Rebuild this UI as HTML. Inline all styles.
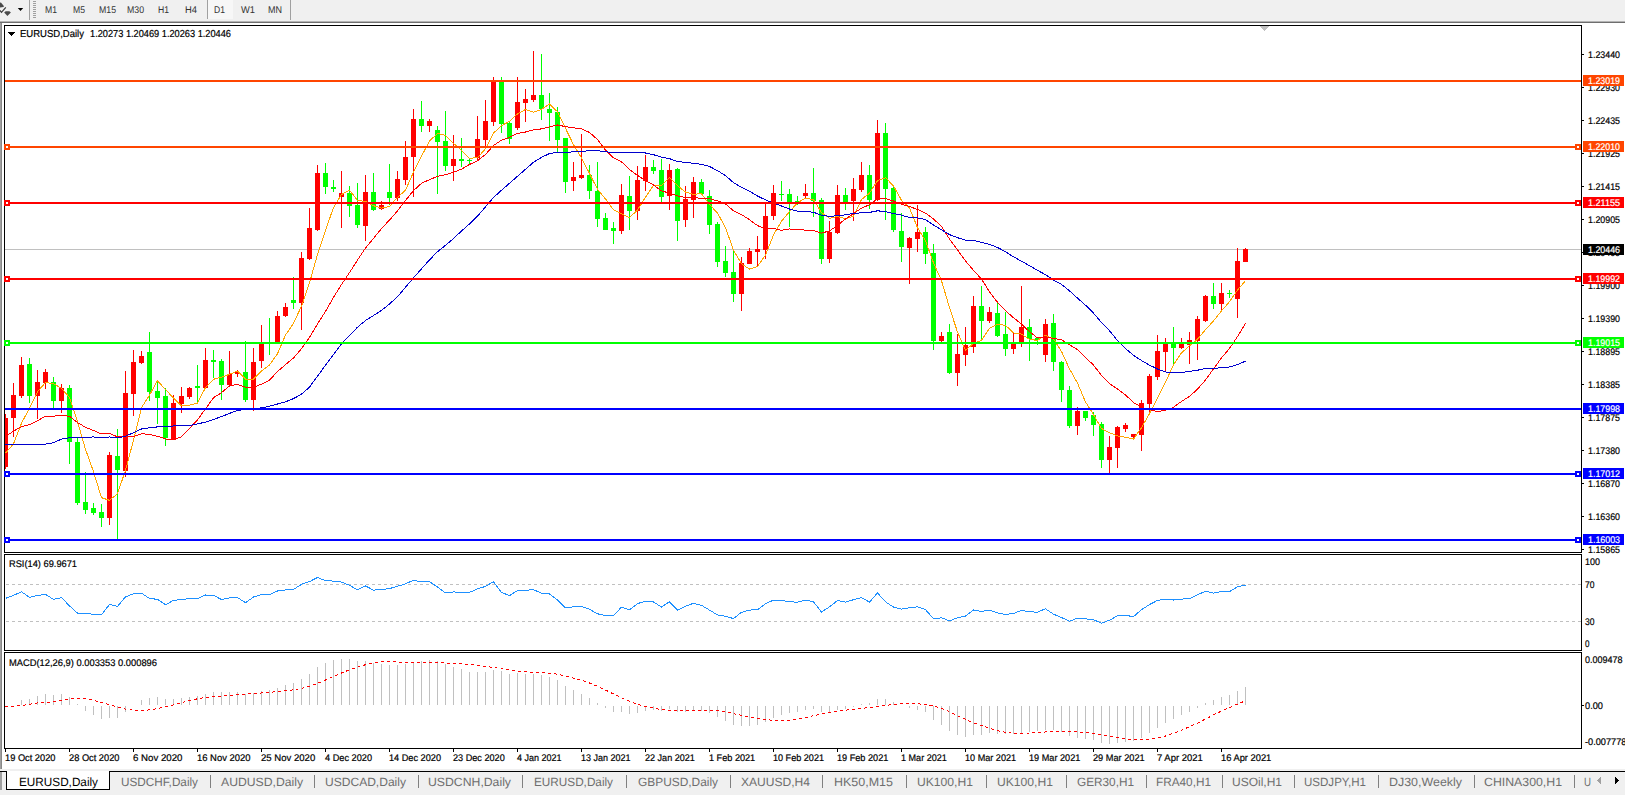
<!DOCTYPE html>
<html><head><meta charset="utf-8"><style>
html,body{margin:0;padding:0;width:1625px;height:795px;overflow:hidden;background:#fff}
svg{display:block;font-family:"Liberation Sans",sans-serif;text-rendering:geometricPrecision}
</style></head><body>
<svg width="1625" height="795" viewBox="0 0 1625 795" shape-rendering="crispEdges">
<rect x="0" y="0" width="1625" height="20" fill="#f0f0f0"/>
<rect x="0" y="20" width="1625" height="1" fill="#f0f0f0"/>
<rect x="0" y="21" width="1625" height="1" fill="#b4b4b4"/>
<rect x="0" y="22" width="1625" height="1" fill="#6e6e6e"/>
<rect x="0" y="23" width="1" height="746" fill="#a0a0a0"/>
<rect x="1" y="23" width="1" height="746" fill="#888888"/>
<rect x="2" y="23" width="1623" height="746" fill="#ffffff"/>
<rect x="0" y="769" width="1625" height="26" fill="#f0f0f0"/>
<g shape-rendering="auto">
<path d="M0 2.6 L1.2 2.8 L4 6.2 L3.4 7 L0 7.6 Z" fill="#4a4a4a"/>
<path d="M0 10.4 L1.5 12.4 L5.8 7.4" stroke="#3a3a3a" stroke-width="1.2" fill="none"/>
<path d="M4.2 12.4 L5.6 11.2 L9.4 11.2 L10.9 12.4 L7.4 16 Z" fill="#4a4a4a"/>
<path d="M17.8 8 L23.2 8 L20.5 11 Z" fill="#000"/>
</g>
<rect x="29" y="0" width="1" height="20" fill="#a0a0a0"/>
<rect x="33" y="1" width="3" height="1" fill="#a0a0a0"/>
<rect x="33" y="3" width="3" height="1" fill="#a0a0a0"/>
<rect x="33" y="5" width="3" height="1" fill="#a0a0a0"/>
<rect x="33" y="7" width="3" height="1" fill="#a0a0a0"/>
<rect x="33" y="9" width="3" height="1" fill="#a0a0a0"/>
<rect x="33" y="11" width="3" height="1" fill="#a0a0a0"/>
<rect x="33" y="13" width="3" height="1" fill="#a0a0a0"/>
<rect x="33" y="15" width="3" height="1" fill="#a0a0a0"/>
<rect x="33" y="17" width="3" height="1" fill="#a0a0a0"/>
<rect x="207" y="0" width="1" height="19" fill="#a0a0a0"/>
<rect x="208" y="0" width="25" height="19" fill="#f7f7f7"/>
<rect x="290" y="0" width="1" height="20" fill="#a0a0a0"/>
<text x="45" y="13" font-size="9.8" fill="#333333" stroke="#333333" stroke-width="0" textLength="12" lengthAdjust="spacingAndGlyphs">M1</text>
<text x="73" y="13" font-size="9.8" fill="#333333" stroke="#333333" stroke-width="0" textLength="12" lengthAdjust="spacingAndGlyphs">M5</text>
<text x="99" y="13" font-size="9.8" fill="#333333" stroke="#333333" stroke-width="0" textLength="17" lengthAdjust="spacingAndGlyphs">M15</text>
<text x="127" y="13" font-size="9.8" fill="#333333" stroke="#333333" stroke-width="0" textLength="17" lengthAdjust="spacingAndGlyphs">M30</text>
<text x="158" y="13" font-size="9.8" fill="#333333" stroke="#333333" stroke-width="0" textLength="11" lengthAdjust="spacingAndGlyphs">H1</text>
<text x="185" y="13" font-size="9.8" fill="#333333" stroke="#333333" stroke-width="0" textLength="12" lengthAdjust="spacingAndGlyphs">H4</text>
<text x="214" y="13" font-size="9.8" fill="#333333" stroke="#333333" stroke-width="0" textLength="11" lengthAdjust="spacingAndGlyphs">D1</text>
<text x="241" y="13" font-size="9.8" fill="#333333" stroke="#333333" stroke-width="0" textLength="14" lengthAdjust="spacingAndGlyphs">W1</text>
<text x="268" y="13" font-size="9.8" fill="#333333" stroke="#333333" stroke-width="0" textLength="14" lengthAdjust="spacingAndGlyphs">MN</text>
<rect x="4" y="25" width="1578" height="1" fill="#000"/>
<rect x="4" y="552" width="1578" height="1" fill="#000"/>
<rect x="4" y="25" width="1" height="528" fill="#000"/>
<rect x="1581" y="25" width="1" height="528" fill="#000"/>
<rect x="4" y="554" width="1578" height="1" fill="#000"/>
<rect x="4" y="650" width="1578" height="1" fill="#000"/>
<rect x="4" y="554" width="1" height="97" fill="#000"/>
<rect x="1581" y="554" width="1" height="97" fill="#000"/>
<rect x="4" y="652" width="1578" height="1" fill="#000"/>
<rect x="4" y="748" width="1578" height="1" fill="#000"/>
<rect x="4" y="652" width="1" height="97" fill="#000"/>
<rect x="1581" y="652" width="1" height="97" fill="#000"/>
<defs><clipPath id="cm"><rect x="5" y="26" width="1576" height="526"/></clipPath><clipPath id="cr"><rect x="5" y="555" width="1576" height="95"/></clipPath><clipPath id="cd"><rect x="5" y="653" width="1576" height="95"/></clipPath></defs>
<g clip-path="url(#cm)">
<rect x="5" y="249" width="1576" height="1" fill="#c0c0c0"/>
<path d="M1259 26 L1269 26 L1264 31 Z" fill="#c0c0c0"/>
<rect x="5" y="414" width="1" height="55" fill="#ff0000"/>
<rect x="3" y="418" width="5" height="49" fill="#ff0000"/>
<rect x="13" y="383" width="1" height="54" fill="#ff0000"/>
<rect x="11" y="395" width="5" height="23" fill="#ff0000"/>
<rect x="21" y="357" width="1" height="41" fill="#ff0000"/>
<rect x="19" y="365" width="5" height="31" fill="#ff0000"/>
<rect x="29" y="358" width="1" height="45" fill="#00ff00"/>
<rect x="27" y="364" width="5" height="32" fill="#00ff00"/>
<rect x="37" y="370" width="1" height="49" fill="#ff0000"/>
<rect x="35" y="382" width="5" height="14" fill="#ff0000"/>
<rect x="45" y="369" width="1" height="20" fill="#ff0000"/>
<rect x="43" y="372" width="5" height="11" fill="#ff0000"/>
<rect x="53" y="377" width="1" height="31" fill="#00ff00"/>
<rect x="51" y="382" width="5" height="19" fill="#00ff00"/>
<rect x="61" y="384" width="1" height="29" fill="#ff0000"/>
<rect x="59" y="388" width="5" height="13" fill="#ff0000"/>
<rect x="69" y="385" width="1" height="79" fill="#00ff00"/>
<rect x="67" y="388" width="5" height="54" fill="#00ff00"/>
<rect x="77" y="437" width="1" height="68" fill="#00ff00"/>
<rect x="75" y="442" width="5" height="61" fill="#00ff00"/>
<rect x="85" y="472" width="1" height="42" fill="#00ff00"/>
<rect x="83" y="502" width="5" height="8" fill="#00ff00"/>
<rect x="93" y="503" width="1" height="12" fill="#00ff00"/>
<rect x="91" y="508" width="5" height="5" fill="#00ff00"/>
<rect x="101" y="504" width="1" height="23" fill="#00ff00"/>
<rect x="99" y="512" width="5" height="6" fill="#00ff00"/>
<rect x="109" y="452" width="1" height="73" fill="#ff0000"/>
<rect x="107" y="455" width="5" height="63" fill="#ff0000"/>
<rect x="117" y="429" width="1" height="111" fill="#00ff00"/>
<rect x="115" y="456" width="5" height="14" fill="#00ff00"/>
<rect x="125" y="371" width="1" height="106" fill="#ff0000"/>
<rect x="123" y="393" width="5" height="78" fill="#ff0000"/>
<rect x="133" y="350" width="1" height="66" fill="#ff0000"/>
<rect x="131" y="362" width="5" height="32" fill="#ff0000"/>
<rect x="141" y="351" width="1" height="13" fill="#ff0000"/>
<rect x="139" y="356" width="5" height="7" fill="#ff0000"/>
<rect x="149" y="332" width="1" height="69" fill="#00ff00"/>
<rect x="147" y="352" width="5" height="40" fill="#00ff00"/>
<rect x="157" y="381" width="1" height="43" fill="#00ff00"/>
<rect x="155" y="391" width="5" height="7" fill="#00ff00"/>
<rect x="165" y="388" width="1" height="58" fill="#00ff00"/>
<rect x="163" y="396" width="5" height="42" fill="#00ff00"/>
<rect x="173" y="395" width="1" height="44" fill="#ff0000"/>
<rect x="171" y="403" width="5" height="36" fill="#ff0000"/>
<rect x="181" y="387" width="1" height="26" fill="#ff0000"/>
<rect x="179" y="396" width="5" height="8" fill="#ff0000"/>
<rect x="189" y="387" width="1" height="12" fill="#ff0000"/>
<rect x="187" y="388" width="5" height="9" fill="#ff0000"/>
<rect x="197" y="365" width="1" height="37" fill="#00ff00"/>
<rect x="195" y="386" width="5" height="2" fill="#00ff00"/>
<rect x="205" y="348" width="1" height="41" fill="#ff0000"/>
<rect x="203" y="360" width="5" height="28" fill="#ff0000"/>
<rect x="213" y="350" width="1" height="28" fill="#00ff00"/>
<rect x="211" y="360" width="5" height="2" fill="#00ff00"/>
<rect x="221" y="359" width="1" height="41" fill="#00ff00"/>
<rect x="219" y="361" width="5" height="24" fill="#00ff00"/>
<rect x="229" y="351" width="1" height="36" fill="#ff0000"/>
<rect x="227" y="374" width="5" height="11" fill="#ff0000"/>
<rect x="237" y="370" width="1" height="7" fill="#ff0000"/>
<rect x="235" y="372" width="5" height="2" fill="#ff0000"/>
<rect x="245" y="341" width="1" height="61" fill="#00ff00"/>
<rect x="243" y="372" width="5" height="28" fill="#00ff00"/>
<rect x="253" y="348" width="1" height="63" fill="#ff0000"/>
<rect x="251" y="362" width="5" height="38" fill="#ff0000"/>
<rect x="261" y="325" width="1" height="43" fill="#ff0000"/>
<rect x="259" y="344" width="5" height="17" fill="#ff0000"/>
<rect x="269" y="318" width="1" height="37" fill="#00ff00"/>
<rect x="267" y="342" width="5" height="2" fill="#00ff00"/>
<rect x="277" y="311" width="1" height="31" fill="#ff0000"/>
<rect x="275" y="316" width="5" height="26" fill="#ff0000"/>
<rect x="285" y="303" width="1" height="14" fill="#ff0000"/>
<rect x="283" y="307" width="5" height="9" fill="#ff0000"/>
<rect x="293" y="277" width="1" height="32" fill="#00ff00"/>
<rect x="291" y="300" width="5" height="3" fill="#00ff00"/>
<rect x="301" y="252" width="1" height="78" fill="#ff0000"/>
<rect x="299" y="258" width="5" height="45" fill="#ff0000"/>
<rect x="309" y="208" width="1" height="52" fill="#ff0000"/>
<rect x="307" y="228" width="5" height="31" fill="#ff0000"/>
<rect x="317" y="165" width="1" height="66" fill="#ff0000"/>
<rect x="315" y="173" width="5" height="57" fill="#ff0000"/>
<rect x="325" y="163" width="1" height="31" fill="#00ff00"/>
<rect x="323" y="173" width="5" height="14" fill="#00ff00"/>
<rect x="333" y="180" width="1" height="12" fill="#00ff00"/>
<rect x="331" y="187" width="5" height="2" fill="#00ff00"/>
<rect x="341" y="171" width="1" height="57" fill="#ff0000"/>
<rect x="339" y="193" width="5" height="4" fill="#ff0000"/>
<rect x="349" y="186" width="1" height="31" fill="#00ff00"/>
<rect x="347" y="193" width="5" height="13" fill="#00ff00"/>
<rect x="357" y="183" width="1" height="45" fill="#00ff00"/>
<rect x="355" y="205" width="5" height="20" fill="#00ff00"/>
<rect x="365" y="175" width="1" height="66" fill="#ff0000"/>
<rect x="363" y="192" width="5" height="34" fill="#ff0000"/>
<rect x="373" y="173" width="1" height="38" fill="#00ff00"/>
<rect x="371" y="192" width="5" height="18" fill="#00ff00"/>
<rect x="381" y="201" width="1" height="9" fill="#ff0000"/>
<rect x="379" y="205" width="5" height="4" fill="#ff0000"/>
<rect x="389" y="164" width="1" height="41" fill="#00ff00"/>
<rect x="387" y="192" width="5" height="6" fill="#00ff00"/>
<rect x="397" y="171" width="1" height="30" fill="#ff0000"/>
<rect x="395" y="179" width="5" height="19" fill="#ff0000"/>
<rect x="405" y="141" width="1" height="44" fill="#ff0000"/>
<rect x="403" y="157" width="5" height="23" fill="#ff0000"/>
<rect x="413" y="109" width="1" height="88" fill="#ff0000"/>
<rect x="411" y="119" width="5" height="38" fill="#ff0000"/>
<rect x="421" y="101" width="1" height="31" fill="#00ff00"/>
<rect x="419" y="119" width="5" height="7" fill="#00ff00"/>
<rect x="429" y="119" width="1" height="13" fill="#ff0000"/>
<rect x="427" y="121" width="5" height="5" fill="#ff0000"/>
<rect x="437" y="126" width="1" height="68" fill="#00ff00"/>
<rect x="435" y="130" width="5" height="12" fill="#00ff00"/>
<rect x="445" y="111" width="1" height="60" fill="#00ff00"/>
<rect x="443" y="141" width="5" height="25" fill="#00ff00"/>
<rect x="453" y="135" width="1" height="46" fill="#ff0000"/>
<rect x="451" y="159" width="5" height="7" fill="#ff0000"/>
<rect x="461" y="138" width="1" height="29" fill="#00ff00"/>
<rect x="459" y="159" width="5" height="2" fill="#00ff00"/>
<rect x="469" y="158" width="1" height="6" fill="#00ff00"/>
<rect x="467" y="160" width="5" height="1" fill="#00ff00"/>
<rect x="477" y="116" width="1" height="45" fill="#ff0000"/>
<rect x="475" y="139" width="5" height="19" fill="#ff0000"/>
<rect x="485" y="100" width="1" height="46" fill="#ff0000"/>
<rect x="483" y="121" width="5" height="19" fill="#ff0000"/>
<rect x="493" y="77" width="1" height="49" fill="#ff0000"/>
<rect x="491" y="81" width="5" height="41" fill="#ff0000"/>
<rect x="501" y="77" width="1" height="56" fill="#00ff00"/>
<rect x="499" y="81" width="5" height="43" fill="#00ff00"/>
<rect x="509" y="122" width="1" height="22" fill="#00ff00"/>
<rect x="507" y="123" width="5" height="16" fill="#00ff00"/>
<rect x="517" y="77" width="1" height="53" fill="#ff0000"/>
<rect x="515" y="102" width="5" height="26" fill="#ff0000"/>
<rect x="525" y="89" width="1" height="33" fill="#ff0000"/>
<rect x="523" y="99" width="5" height="4" fill="#ff0000"/>
<rect x="533" y="51" width="1" height="51" fill="#ff0000"/>
<rect x="531" y="95" width="5" height="5" fill="#ff0000"/>
<rect x="541" y="54" width="1" height="66" fill="#00ff00"/>
<rect x="539" y="95" width="5" height="14" fill="#00ff00"/>
<rect x="549" y="93" width="1" height="48" fill="#00ff00"/>
<rect x="547" y="109" width="5" height="4" fill="#00ff00"/>
<rect x="557" y="107" width="1" height="46" fill="#00ff00"/>
<rect x="555" y="112" width="5" height="28" fill="#00ff00"/>
<rect x="565" y="138" width="1" height="55" fill="#00ff00"/>
<rect x="563" y="138" width="5" height="44" fill="#00ff00"/>
<rect x="573" y="162" width="1" height="29" fill="#ff0000"/>
<rect x="571" y="177" width="5" height="4" fill="#ff0000"/>
<rect x="581" y="134" width="1" height="45" fill="#ff0000"/>
<rect x="579" y="175" width="5" height="3" fill="#ff0000"/>
<rect x="589" y="165" width="1" height="34" fill="#00ff00"/>
<rect x="587" y="175" width="5" height="16" fill="#00ff00"/>
<rect x="597" y="162" width="1" height="65" fill="#00ff00"/>
<rect x="595" y="191" width="5" height="28" fill="#00ff00"/>
<rect x="605" y="213" width="1" height="17" fill="#00ff00"/>
<rect x="603" y="218" width="5" height="12" fill="#00ff00"/>
<rect x="613" y="222" width="1" height="22" fill="#00ff00"/>
<rect x="611" y="228" width="5" height="3" fill="#00ff00"/>
<rect x="621" y="184" width="1" height="50" fill="#ff0000"/>
<rect x="619" y="195" width="5" height="36" fill="#ff0000"/>
<rect x="629" y="176" width="1" height="54" fill="#00ff00"/>
<rect x="627" y="196" width="5" height="15" fill="#00ff00"/>
<rect x="637" y="166" width="1" height="54" fill="#ff0000"/>
<rect x="635" y="180" width="5" height="31" fill="#ff0000"/>
<rect x="645" y="155" width="1" height="36" fill="#ff0000"/>
<rect x="643" y="167" width="5" height="14" fill="#ff0000"/>
<rect x="653" y="160" width="1" height="14" fill="#00ff00"/>
<rect x="651" y="167" width="5" height="4" fill="#00ff00"/>
<rect x="661" y="159" width="1" height="43" fill="#00ff00"/>
<rect x="659" y="170" width="5" height="27" fill="#00ff00"/>
<rect x="669" y="164" width="1" height="46" fill="#ff0000"/>
<rect x="667" y="170" width="5" height="26" fill="#ff0000"/>
<rect x="677" y="168" width="1" height="73" fill="#00ff00"/>
<rect x="675" y="169" width="5" height="52" fill="#00ff00"/>
<rect x="685" y="186" width="1" height="41" fill="#ff0000"/>
<rect x="683" y="199" width="5" height="21" fill="#ff0000"/>
<rect x="693" y="177" width="1" height="41" fill="#ff0000"/>
<rect x="691" y="182" width="5" height="18" fill="#ff0000"/>
<rect x="701" y="179" width="1" height="16" fill="#00ff00"/>
<rect x="699" y="182" width="5" height="12" fill="#00ff00"/>
<rect x="709" y="190" width="1" height="44" fill="#00ff00"/>
<rect x="707" y="196" width="5" height="29" fill="#00ff00"/>
<rect x="717" y="222" width="1" height="45" fill="#00ff00"/>
<rect x="715" y="224" width="5" height="38" fill="#00ff00"/>
<rect x="725" y="246" width="1" height="31" fill="#00ff00"/>
<rect x="723" y="261" width="5" height="12" fill="#00ff00"/>
<rect x="733" y="251" width="1" height="51" fill="#00ff00"/>
<rect x="731" y="272" width="5" height="22" fill="#00ff00"/>
<rect x="741" y="257" width="1" height="54" fill="#ff0000"/>
<rect x="739" y="263" width="5" height="31" fill="#ff0000"/>
<rect x="749" y="248" width="1" height="16" fill="#ff0000"/>
<rect x="747" y="251" width="5" height="13" fill="#ff0000"/>
<rect x="757" y="236" width="1" height="30" fill="#ff0000"/>
<rect x="755" y="249" width="5" height="3" fill="#ff0000"/>
<rect x="765" y="204" width="1" height="55" fill="#ff0000"/>
<rect x="763" y="216" width="5" height="34" fill="#ff0000"/>
<rect x="773" y="185" width="1" height="35" fill="#ff0000"/>
<rect x="771" y="193" width="5" height="23" fill="#ff0000"/>
<rect x="781" y="181" width="1" height="20" fill="#00ff00"/>
<rect x="779" y="194" width="5" height="1" fill="#00ff00"/>
<rect x="789" y="189" width="1" height="38" fill="#00ff00"/>
<rect x="787" y="194" width="5" height="9" fill="#00ff00"/>
<rect x="797" y="196" width="1" height="9" fill="#00ff00"/>
<rect x="795" y="201" width="5" height="3" fill="#00ff00"/>
<rect x="805" y="184" width="1" height="15" fill="#ff0000"/>
<rect x="803" y="193" width="5" height="3" fill="#ff0000"/>
<rect x="813" y="168" width="1" height="49" fill="#00ff00"/>
<rect x="811" y="193" width="5" height="8" fill="#00ff00"/>
<rect x="821" y="198" width="1" height="66" fill="#00ff00"/>
<rect x="819" y="200" width="5" height="59" fill="#00ff00"/>
<rect x="829" y="221" width="1" height="42" fill="#ff0000"/>
<rect x="827" y="232" width="5" height="27" fill="#ff0000"/>
<rect x="837" y="185" width="1" height="49" fill="#ff0000"/>
<rect x="835" y="195" width="5" height="38" fill="#ff0000"/>
<rect x="845" y="188" width="1" height="22" fill="#00ff00"/>
<rect x="843" y="195" width="5" height="9" fill="#00ff00"/>
<rect x="853" y="178" width="1" height="43" fill="#ff0000"/>
<rect x="851" y="189" width="5" height="12" fill="#ff0000"/>
<rect x="861" y="162" width="1" height="30" fill="#ff0000"/>
<rect x="859" y="175" width="5" height="15" fill="#ff0000"/>
<rect x="869" y="165" width="1" height="44" fill="#00ff00"/>
<rect x="867" y="175" width="5" height="25" fill="#00ff00"/>
<rect x="877" y="120" width="1" height="81" fill="#ff0000"/>
<rect x="875" y="133" width="5" height="67" fill="#ff0000"/>
<rect x="885" y="123" width="1" height="97" fill="#00ff00"/>
<rect x="883" y="133" width="5" height="56" fill="#00ff00"/>
<rect x="893" y="187" width="1" height="45" fill="#00ff00"/>
<rect x="891" y="188" width="5" height="42" fill="#00ff00"/>
<rect x="901" y="213" width="1" height="49" fill="#00ff00"/>
<rect x="899" y="231" width="5" height="16" fill="#00ff00"/>
<rect x="909" y="237" width="1" height="47" fill="#ff0000"/>
<rect x="907" y="238" width="5" height="10" fill="#ff0000"/>
<rect x="917" y="205" width="1" height="47" fill="#ff0000"/>
<rect x="915" y="232" width="5" height="7" fill="#ff0000"/>
<rect x="925" y="227" width="1" height="37" fill="#00ff00"/>
<rect x="923" y="232" width="5" height="22" fill="#00ff00"/>
<rect x="933" y="244" width="1" height="106" fill="#00ff00"/>
<rect x="931" y="253" width="5" height="88" fill="#00ff00"/>
<rect x="941" y="332" width="1" height="10" fill="#ff0000"/>
<rect x="939" y="336" width="5" height="5" fill="#ff0000"/>
<rect x="949" y="324" width="1" height="50" fill="#00ff00"/>
<rect x="947" y="332" width="5" height="41" fill="#00ff00"/>
<rect x="957" y="334" width="1" height="52" fill="#ff0000"/>
<rect x="955" y="354" width="5" height="19" fill="#ff0000"/>
<rect x="965" y="327" width="1" height="39" fill="#ff0000"/>
<rect x="963" y="345" width="5" height="10" fill="#ff0000"/>
<rect x="973" y="296" width="1" height="57" fill="#ff0000"/>
<rect x="971" y="306" width="5" height="41" fill="#ff0000"/>
<rect x="981" y="286" width="1" height="53" fill="#00ff00"/>
<rect x="979" y="306" width="5" height="15" fill="#00ff00"/>
<rect x="989" y="307" width="1" height="16" fill="#ff0000"/>
<rect x="987" y="312" width="5" height="9" fill="#ff0000"/>
<rect x="997" y="301" width="1" height="36" fill="#00ff00"/>
<rect x="995" y="313" width="5" height="23" fill="#00ff00"/>
<rect x="1005" y="312" width="1" height="44" fill="#00ff00"/>
<rect x="1003" y="334" width="5" height="15" fill="#00ff00"/>
<rect x="1013" y="332" width="1" height="22" fill="#ff0000"/>
<rect x="1011" y="344" width="5" height="5" fill="#ff0000"/>
<rect x="1021" y="286" width="1" height="61" fill="#ff0000"/>
<rect x="1019" y="327" width="5" height="15" fill="#ff0000"/>
<rect x="1029" y="319" width="1" height="42" fill="#00ff00"/>
<rect x="1027" y="327" width="5" height="12" fill="#00ff00"/>
<rect x="1037" y="337" width="1" height="8" fill="#00ff00"/>
<rect x="1035" y="338" width="5" height="2" fill="#00ff00"/>
<rect x="1045" y="319" width="1" height="43" fill="#ff0000"/>
<rect x="1043" y="324" width="5" height="31" fill="#ff0000"/>
<rect x="1053" y="314" width="1" height="57" fill="#00ff00"/>
<rect x="1051" y="323" width="5" height="39" fill="#00ff00"/>
<rect x="1061" y="361" width="1" height="41" fill="#00ff00"/>
<rect x="1059" y="362" width="5" height="28" fill="#00ff00"/>
<rect x="1069" y="386" width="1" height="42" fill="#00ff00"/>
<rect x="1067" y="390" width="5" height="36" fill="#00ff00"/>
<rect x="1077" y="407" width="1" height="28" fill="#ff0000"/>
<rect x="1075" y="411" width="5" height="15" fill="#ff0000"/>
<rect x="1085" y="411" width="1" height="10" fill="#00ff00"/>
<rect x="1083" y="411" width="5" height="7" fill="#00ff00"/>
<rect x="1093" y="412" width="1" height="24" fill="#00ff00"/>
<rect x="1091" y="415" width="5" height="10" fill="#00ff00"/>
<rect x="1101" y="422" width="1" height="46" fill="#00ff00"/>
<rect x="1099" y="424" width="5" height="36" fill="#00ff00"/>
<rect x="1109" y="436" width="1" height="38" fill="#ff0000"/>
<rect x="1107" y="447" width="5" height="13" fill="#ff0000"/>
<rect x="1117" y="426" width="1" height="42" fill="#ff0000"/>
<rect x="1115" y="427" width="5" height="21" fill="#ff0000"/>
<rect x="1125" y="423" width="1" height="9" fill="#ff0000"/>
<rect x="1123" y="425" width="5" height="4" fill="#ff0000"/>
<rect x="1133" y="434" width="1" height="4" fill="#ff0000"/>
<rect x="1131" y="434" width="5" height="3" fill="#ff0000"/>
<rect x="1141" y="400" width="1" height="51" fill="#ff0000"/>
<rect x="1139" y="403" width="5" height="32" fill="#ff0000"/>
<rect x="1149" y="374" width="1" height="39" fill="#ff0000"/>
<rect x="1147" y="376" width="5" height="28" fill="#ff0000"/>
<rect x="1157" y="335" width="1" height="45" fill="#ff0000"/>
<rect x="1155" y="351" width="5" height="26" fill="#ff0000"/>
<rect x="1165" y="338" width="1" height="33" fill="#ff0000"/>
<rect x="1163" y="344" width="5" height="8" fill="#ff0000"/>
<rect x="1173" y="327" width="1" height="38" fill="#00ff00"/>
<rect x="1171" y="343" width="5" height="5" fill="#00ff00"/>
<rect x="1181" y="338" width="1" height="11" fill="#ff0000"/>
<rect x="1179" y="343" width="5" height="5" fill="#ff0000"/>
<rect x="1189" y="332" width="1" height="32" fill="#ff0000"/>
<rect x="1187" y="340" width="5" height="5" fill="#ff0000"/>
<rect x="1197" y="316" width="1" height="44" fill="#ff0000"/>
<rect x="1195" y="319" width="5" height="22" fill="#ff0000"/>
<rect x="1205" y="295" width="1" height="27" fill="#ff0000"/>
<rect x="1203" y="296" width="5" height="25" fill="#ff0000"/>
<rect x="1213" y="283" width="1" height="26" fill="#00ff00"/>
<rect x="1211" y="296" width="5" height="8" fill="#00ff00"/>
<rect x="1221" y="283" width="1" height="28" fill="#ff0000"/>
<rect x="1219" y="293" width="5" height="11" fill="#ff0000"/>
<rect x="1229" y="290" width="1" height="8" fill="#00ff00"/>
<rect x="1227" y="293" width="5" height="1" fill="#00ff00"/>
<rect x="1237" y="248" width="1" height="70" fill="#ff0000"/>
<rect x="1235" y="261" width="5" height="38" fill="#ff0000"/>
<rect x="1245" y="248" width="1" height="14" fill="#ff0000"/>
<rect x="1243" y="249" width="5" height="13" fill="#ff0000"/>
<polyline points="5.5,453.3 13.5,443.8 21.5,423.2 29.5,408.1 37.5,391.7 45.5,382.5 53.5,383.7 61.5,388.3 69.5,397.5 77.5,421.7 85.5,449.3 93.5,471.7 101.5,497.7 109.5,500.3 117.5,493.7 125.5,470.3 133.5,440.1 141.5,407.7 149.5,395.1 157.5,380.7 165.5,389.7 173.5,397.9 181.5,405.9 189.5,405.1 197.5,403.1 205.5,387.5 213.5,379.3 221.5,377.1 229.5,374.3 237.5,371.1 245.5,379.1 253.5,379.1 261.5,370.9 269.5,364.9 277.5,353.7 285.5,335.1 293.5,323.3 301.5,306.1 309.5,282.9 317.5,254.3 325.5,230.3 333.5,207.5 341.5,194.5 349.5,190.1 357.5,200.5 365.5,201.5 373.5,205.7 381.5,208.1 389.5,206.5 397.5,197.3 405.5,190.3 413.5,172.1 421.5,156.3 429.5,140.9 437.5,133.5 445.5,135.3 453.5,143.3 461.5,150.3 469.5,158.3 477.5,157.7 485.5,148.7 493.5,133.1 501.5,125.7 509.5,121.3 517.5,113.9 525.5,109.5 533.5,112.3 541.5,109.3 549.5,104.1 557.5,111.7 565.5,128.3 573.5,144.7 581.5,157.9 589.5,173.5 597.5,189.3 605.5,198.9 613.5,209.7 621.5,213.7 629.5,217.7 637.5,209.9 645.5,197.3 653.5,185.3 661.5,185.7 669.5,177.5 677.5,185.7 685.5,192.1 693.5,194.3 701.5,193.7 709.5,204.7 717.5,212.9 725.5,227.7 733.5,250.1 741.5,263.9 749.5,269.1 757.5,266.5 765.5,255.1 773.5,234.9 781.5,221.3 789.5,211.7 797.5,202.7 805.5,198.1 813.5,199.7 821.5,212.5 829.5,218.3 837.5,216.5 845.5,218.7 853.5,216.3 861.5,199.5 869.5,193.1 877.5,180.7 885.5,177.7 893.5,185.9 901.5,200.3 909.5,207.9 917.5,227.7 925.5,240.7 933.5,262.9 941.5,280.7 949.5,307.7 957.5,332.1 965.5,350.3 973.5,343.3 981.5,340.3 989.5,328.1 997.5,324.5 1005.5,325.3 1013.5,332.9 1021.5,334.1 1029.5,339.5 1037.5,340.3 1045.5,335.3 1053.5,338.9 1061.5,351.5 1069.5,368.9 1077.5,383.1 1085.5,401.9 1093.5,414.5 1101.5,428.5 1109.5,432.7 1117.5,435.9 1125.5,437.3 1133.5,439.1 1141.5,427.7 1149.5,413.5 1157.5,398.3 1165.5,382.1 1173.5,364.9 1181.5,352.9 1189.5,345.7 1197.5,339.3 1205.5,329.7 1213.5,320.9 1221.5,310.9 1229.5,301.7 1237.5,290.1 1245.5,280.7" fill="none" stroke="#ffa500" stroke-width="1"/>
<polyline points="5.5,436.3 13.5,431.2 21.5,426.6 29.5,424.6 37.5,420.7 45.5,416.2 53.5,416.1 61.5,415.5 69.5,416.2 77.5,422.5 85.5,427.3 93.5,430.5 101.5,433.9 109.5,433.2 117.5,436.9 125.5,436.8 133.5,436.6 141.5,433.7 149.5,434.4 157.5,436.3 165.5,438.9 173.5,440.0 181.5,436.7 189.5,428.5 197.5,419.8 205.5,408.9 213.5,397.7 221.5,392.7 229.5,385.9 237.5,384.4 245.5,387.1 253.5,387.5 261.5,384.1 269.5,380.2 277.5,371.5 285.5,364.6 293.5,358.0 301.5,348.7 309.5,337.3 317.5,323.9 325.5,311.4 333.5,297.4 341.5,284.5 349.5,272.6 357.5,260.1 365.5,248.0 373.5,238.4 381.5,228.5 389.5,220.1 397.5,210.9 405.5,200.5 413.5,190.6 421.5,183.3 429.5,179.6 437.5,176.4 445.5,174.7 453.5,172.3 461.5,169.1 469.5,164.5 477.5,160.7 485.5,154.4 493.5,145.5 501.5,140.2 509.5,137.4 517.5,133.4 525.5,132.0 533.5,129.8 541.5,128.9 549.5,126.9 557.5,125.0 565.5,126.6 573.5,127.8 581.5,128.8 589.5,132.5 597.5,139.5 605.5,150.1 613.5,157.8 621.5,161.8 629.5,169.6 637.5,175.4 645.5,180.5 653.5,184.9 661.5,190.9 669.5,193.1 677.5,195.9 685.5,197.4 693.5,197.9 701.5,198.1 709.5,198.6 717.5,200.9 725.5,203.9 733.5,210.9 741.5,214.6 749.5,219.7 757.5,225.6 765.5,228.8 773.5,228.5 781.5,230.3 789.5,229.0 797.5,229.4 805.5,230.1 813.5,230.6 821.5,233.1 829.5,230.9 837.5,225.4 845.5,218.9 853.5,213.6 861.5,208.2 869.5,204.7 877.5,198.8 885.5,198.5 893.5,201.0 901.5,204.1 909.5,206.6 917.5,209.4 925.5,213.1 933.5,219.0 941.5,226.4 949.5,239.1 957.5,249.9 965.5,261.0 973.5,270.4 981.5,279.0 989.5,291.8 997.5,302.3 1005.5,310.8 1013.5,317.7 1021.5,324.1 1029.5,331.7 1037.5,337.9 1045.5,336.6 1053.5,338.5 1061.5,339.7 1069.5,344.9 1077.5,349.6 1085.5,357.6 1093.5,365.0 1101.5,375.6 1109.5,383.5 1117.5,389.1 1125.5,394.9 1133.5,402.5 1141.5,407.1 1149.5,409.6 1157.5,411.6 1165.5,410.3 1173.5,407.3 1181.5,401.4 1189.5,396.3 1197.5,389.2 1205.5,380.0 1213.5,368.9 1221.5,357.9 1229.5,348.4 1237.5,336.6 1245.5,323.4" fill="none" stroke="#ff0000" stroke-width="1"/>
<polyline points="5.5,444.1 13.5,444.8 21.5,444.1 29.5,444.1 37.5,444.2 45.5,444.1 53.5,442.8 61.5,439.1 69.5,437.8 77.5,437.8 85.5,437.7 93.5,436.9 101.5,437.8 109.5,436.9 117.5,437.8 125.5,436.3 133.5,432.7 141.5,429.0 149.5,427.8 157.5,426.9 165.5,427.0 173.5,425.9 181.5,425.7 189.5,425.4 197.5,423.9 205.5,422.1 213.5,419.4 221.5,416.6 229.5,413.4 237.5,410.3 245.5,409.7 253.5,408.6 261.5,407.9 269.5,406.2 277.5,404.0 285.5,401.8 293.5,398.6 301.5,394.2 309.5,387.1 317.5,376.1 325.5,365.3 333.5,354.5 341.5,343.7 349.5,335.4 357.5,327.2 365.5,320.5 373.5,315.5 381.5,310.4 389.5,304.0 397.5,296.7 405.5,287.3 413.5,277.8 421.5,268.8 429.5,259.9 437.5,251.7 445.5,245.3 453.5,238.5 461.5,231.0 469.5,223.9 477.5,216.2 485.5,206.9 493.5,197.5 501.5,190.2 509.5,183.3 517.5,176.2 525.5,169.3 533.5,162.3 541.5,157.4 549.5,153.5 557.5,152.4 565.5,152.3 573.5,151.9 581.5,151.3 589.5,150.8 597.5,150.6 605.5,151.8 613.5,152.5 621.5,152.2 629.5,152.6 637.5,152.7 645.5,153.0 653.5,154.7 661.5,157.1 669.5,158.7 677.5,161.4 685.5,162.5 693.5,163.2 701.5,164.3 709.5,166.5 717.5,170.6 725.5,175.6 733.5,182.7 741.5,187.4 749.5,191.1 757.5,196.0 765.5,199.9 773.5,203.2 781.5,206.0 789.5,209.0 797.5,211.2 805.5,211.5 813.5,212.3 821.5,215.1 829.5,216.5 837.5,215.7 845.5,214.8 853.5,213.4 861.5,212.8 869.5,212.4 877.5,210.8 885.5,211.6 893.5,213.5 901.5,215.2 909.5,217.5 917.5,217.8 925.5,219.7 933.5,225.0 941.5,229.7 949.5,234.6 957.5,237.7 965.5,240.1 973.5,240.5 981.5,242.4 989.5,244.5 997.5,247.4 1005.5,251.8 1013.5,256.8 1021.5,261.2 1029.5,265.8 1037.5,270.3 1045.5,274.7 1053.5,280.0 1061.5,284.4 1069.5,290.9 1077.5,298.1 1085.5,305.2 1093.5,313.1 1101.5,322.6 1109.5,330.8 1117.5,340.6 1125.5,348.5 1133.5,355.3 1141.5,360.5 1149.5,365.1 1157.5,369.0 1165.5,372.0 1173.5,372.3 1181.5,372.5 1189.5,371.4 1197.5,370.2 1205.5,368.6 1213.5,368.5 1221.5,367.6 1229.5,367.0 1237.5,364.5 1245.5,361.2" fill="none" stroke="#0000cd" stroke-width="1"/>
<rect x="5" y="80" width="1576" height="2" fill="#ff4500"/>
<rect x="5" y="146" width="1576" height="2" fill="#ff4500"/>
<rect x="5" y="202" width="1576" height="2" fill="#ff0000"/>
<rect x="5" y="278" width="1576" height="2" fill="#ff0000"/>
<rect x="5" y="342" width="1576" height="2" fill="#00ff00"/>
<rect x="5" y="408" width="1576" height="2" fill="#0000ff"/>
<rect x="5" y="473" width="1576" height="2" fill="#0000ff"/>
<rect x="5" y="539" width="1576" height="2" fill="#0000ff"/>
</g>
<rect x="4" y="144" width="6" height="6" fill="#ff4500"/>
<rect x="6" y="146" width="2" height="2" fill="#fff"/>
<rect x="1575" y="144" width="6" height="6" fill="#ff4500"/>
<rect x="1577" y="146" width="2" height="2" fill="#fff"/>
<rect x="4" y="200" width="6" height="6" fill="#ff0000"/>
<rect x="6" y="202" width="2" height="2" fill="#fff"/>
<rect x="1575" y="200" width="6" height="6" fill="#ff0000"/>
<rect x="1577" y="202" width="2" height="2" fill="#fff"/>
<rect x="4" y="276" width="6" height="6" fill="#ff0000"/>
<rect x="6" y="278" width="2" height="2" fill="#fff"/>
<rect x="1575" y="276" width="6" height="6" fill="#ff0000"/>
<rect x="1577" y="278" width="2" height="2" fill="#fff"/>
<rect x="4" y="340" width="6" height="6" fill="#00ff00"/>
<rect x="6" y="342" width="2" height="2" fill="#fff"/>
<rect x="1575" y="340" width="6" height="6" fill="#00ff00"/>
<rect x="1577" y="342" width="2" height="2" fill="#fff"/>
<rect x="4" y="471" width="6" height="6" fill="#0000ff"/>
<rect x="6" y="473" width="2" height="2" fill="#fff"/>
<rect x="1575" y="471" width="6" height="6" fill="#0000ff"/>
<rect x="1577" y="473" width="2" height="2" fill="#fff"/>
<rect x="4" y="537" width="6" height="6" fill="#0000ff"/>
<rect x="6" y="539" width="2" height="2" fill="#fff"/>
<rect x="1575" y="537" width="6" height="6" fill="#0000ff"/>
<rect x="1577" y="539" width="2" height="2" fill="#fff"/>
<path d="M8 32 L15 32 L11.5 36 Z" fill="#000"/>
<text x="20" y="37" font-size="10.1" fill="#000" stroke="#000" stroke-width="0.2" textLength="64" lengthAdjust="spacingAndGlyphs">EURUSD,Daily</text>
<text x="90" y="37" font-size="10.1" fill="#000" stroke="#000" stroke-width="0.2" textLength="141" lengthAdjust="spacingAndGlyphs">1.20273 1.20469 1.20263 1.20446</text>
<rect x="1582" y="54" width="2" height="1" fill="#000"/>
<text x="1588" y="58" font-size="9.6" fill="#000" stroke="#000" stroke-width="0.2" textLength="32" lengthAdjust="spacingAndGlyphs">1.23440</text>
<rect x="1582" y="87" width="2" height="1" fill="#000"/>
<text x="1588" y="91" font-size="9.6" fill="#000" stroke="#000" stroke-width="0.2" textLength="32" lengthAdjust="spacingAndGlyphs">1.22930</text>
<rect x="1582" y="120" width="2" height="1" fill="#000"/>
<text x="1588" y="124" font-size="9.6" fill="#000" stroke="#000" stroke-width="0.2" textLength="32" lengthAdjust="spacingAndGlyphs">1.22435</text>
<rect x="1582" y="153" width="2" height="1" fill="#000"/>
<text x="1588" y="157" font-size="9.6" fill="#000" stroke="#000" stroke-width="0.2" textLength="32" lengthAdjust="spacingAndGlyphs">1.21925</text>
<rect x="1582" y="186" width="2" height="1" fill="#000"/>
<text x="1588" y="190" font-size="9.6" fill="#000" stroke="#000" stroke-width="0.2" textLength="32" lengthAdjust="spacingAndGlyphs">1.21415</text>
<rect x="1582" y="219" width="2" height="1" fill="#000"/>
<text x="1588" y="223" font-size="9.6" fill="#000" stroke="#000" stroke-width="0.2" textLength="32" lengthAdjust="spacingAndGlyphs">1.20905</text>
<rect x="1582" y="252" width="2" height="1" fill="#000"/>
<text x="1588" y="256" font-size="9.6" fill="#000" stroke="#000" stroke-width="0.2" textLength="32" lengthAdjust="spacingAndGlyphs">1.20400</text>
<rect x="1582" y="285" width="2" height="1" fill="#000"/>
<text x="1588" y="289" font-size="9.6" fill="#000" stroke="#000" stroke-width="0.2" textLength="32" lengthAdjust="spacingAndGlyphs">1.19900</text>
<rect x="1582" y="318" width="2" height="1" fill="#000"/>
<text x="1588" y="322" font-size="9.6" fill="#000" stroke="#000" stroke-width="0.2" textLength="32" lengthAdjust="spacingAndGlyphs">1.19390</text>
<rect x="1582" y="351" width="2" height="1" fill="#000"/>
<text x="1588" y="355" font-size="9.6" fill="#000" stroke="#000" stroke-width="0.2" textLength="32" lengthAdjust="spacingAndGlyphs">1.18895</text>
<rect x="1582" y="384" width="2" height="1" fill="#000"/>
<text x="1588" y="388" font-size="9.6" fill="#000" stroke="#000" stroke-width="0.2" textLength="32" lengthAdjust="spacingAndGlyphs">1.18385</text>
<rect x="1582" y="417" width="2" height="1" fill="#000"/>
<text x="1588" y="421" font-size="9.6" fill="#000" stroke="#000" stroke-width="0.2" textLength="32" lengthAdjust="spacingAndGlyphs">1.17875</text>
<rect x="1582" y="450" width="2" height="1" fill="#000"/>
<text x="1588" y="454" font-size="9.6" fill="#000" stroke="#000" stroke-width="0.2" textLength="32" lengthAdjust="spacingAndGlyphs">1.17380</text>
<rect x="1582" y="483" width="2" height="1" fill="#000"/>
<text x="1588" y="487" font-size="9.6" fill="#000" stroke="#000" stroke-width="0.2" textLength="32" lengthAdjust="spacingAndGlyphs">1.16870</text>
<rect x="1582" y="516" width="2" height="1" fill="#000"/>
<text x="1588" y="520" font-size="9.6" fill="#000" stroke="#000" stroke-width="0.2" textLength="32" lengthAdjust="spacingAndGlyphs">1.16360</text>
<rect x="1582" y="549" width="2" height="1" fill="#000"/>
<text x="1588" y="553" font-size="9.6" fill="#000" stroke="#000" stroke-width="0.2" textLength="32" lengthAdjust="spacingAndGlyphs">1.15865</text>
<rect x="1583" y="75" width="41" height="11" fill="#ff4500"/>
<text x="1588" y="84" font-size="9.6" fill="#fff" stroke="#fff" stroke-width="0.2" textLength="32" lengthAdjust="spacingAndGlyphs">1.23019</text>
<rect x="1583" y="141" width="41" height="11" fill="#ff4500"/>
<text x="1588" y="150" font-size="9.6" fill="#fff" stroke="#fff" stroke-width="0.2" textLength="32" lengthAdjust="spacingAndGlyphs">1.22010</text>
<rect x="1583" y="197" width="41" height="11" fill="#ff0000"/>
<text x="1588" y="206" font-size="9.6" fill="#fff" stroke="#fff" stroke-width="0.2" textLength="32" lengthAdjust="spacingAndGlyphs">1.21155</text>
<rect x="1583" y="273" width="41" height="11" fill="#ff0000"/>
<text x="1588" y="282" font-size="9.6" fill="#fff" stroke="#fff" stroke-width="0.2" textLength="32" lengthAdjust="spacingAndGlyphs">1.19992</text>
<rect x="1583" y="337" width="41" height="11" fill="#00ff00"/>
<text x="1588" y="346" font-size="9.6" fill="#fff" stroke="#fff" stroke-width="0.2" textLength="32" lengthAdjust="spacingAndGlyphs">1.19015</text>
<rect x="1583" y="403" width="41" height="11" fill="#0000ff"/>
<text x="1588" y="412" font-size="9.6" fill="#fff" stroke="#fff" stroke-width="0.2" textLength="32" lengthAdjust="spacingAndGlyphs">1.17998</text>
<rect x="1583" y="468" width="41" height="11" fill="#0000ff"/>
<text x="1588" y="477" font-size="9.6" fill="#fff" stroke="#fff" stroke-width="0.2" textLength="32" lengthAdjust="spacingAndGlyphs">1.17012</text>
<rect x="1583" y="534" width="41" height="11" fill="#0000ff"/>
<text x="1588" y="543" font-size="9.6" fill="#fff" stroke="#fff" stroke-width="0.2" textLength="32" lengthAdjust="spacingAndGlyphs">1.16003</text>
<rect x="1583" y="244" width="41" height="11" fill="#000000"/>
<text x="1588" y="253" font-size="9.6" fill="#fff" stroke="#fff" stroke-width="0.2" textLength="32" lengthAdjust="spacingAndGlyphs">1.20446</text>
<text x="9" y="567" font-size="9.6" fill="#000" stroke="#000" stroke-width="0.2" textLength="68" lengthAdjust="spacingAndGlyphs">RSI(14) 69.9671</text>
<g clip-path="url(#cr)">
<line x1="6" y1="584.5" x2="1581" y2="584.5" stroke="#c0c0c0" stroke-dasharray="3,3"/>
<line x1="6" y1="621.5" x2="1581" y2="621.5" stroke="#c0c0c0" stroke-dasharray="3,3"/>
<polyline points="5.5,598.4 13.5,595.4 21.5,591.8 29.5,597.3 37.5,595.5 45.5,594.3 53.5,599.4 61.5,597.6 69.5,605.9 77.5,613.1 85.5,613.8 93.5,614.1 101.5,614.7 109.5,604.5 117.5,606.4 125.5,596.9 133.5,593.8 141.5,593.2 149.5,598.5 157.5,599.3 165.5,604.7 173.5,600.4 181.5,599.6 189.5,598.6 197.5,598.6 205.5,595.0 213.5,595.4 221.5,599.5 229.5,597.9 237.5,597.6 245.5,602.7 253.5,597.0 261.5,594.6 269.5,594.6 277.5,591.0 285.5,589.9 293.5,589.4 301.5,584.3 309.5,581.6 317.5,577.5 325.5,580.7 333.5,581.1 341.5,582.1 349.5,585.3 357.5,589.8 365.5,586.0 373.5,590.1 381.5,589.5 389.5,588.6 397.5,586.3 405.5,583.8 413.5,580.2 421.5,582.0 429.5,581.6 437.5,587.1 445.5,592.9 453.5,591.9 461.5,592.4 469.5,592.4 477.5,588.9 485.5,586.4 493.5,581.7 501.5,592.4 509.5,595.6 517.5,590.6 525.5,590.3 533.5,589.7 541.5,593.1 549.5,594.0 557.5,600.1 565.5,607.8 573.5,606.8 581.5,606.4 589.5,609.3 597.5,613.8 605.5,615.5 613.5,615.6 621.5,607.1 629.5,609.9 637.5,603.6 645.5,601.2 653.5,602.0 661.5,607.0 669.5,601.8 677.5,610.2 685.5,606.2 693.5,603.3 701.5,605.3 709.5,610.1 717.5,614.9 725.5,616.2 733.5,618.6 741.5,612.3 749.5,610.1 757.5,609.7 765.5,603.7 773.5,600.1 781.5,600.4 789.5,601.9 797.5,602.1 805.5,600.1 813.5,601.8 821.5,612.1 829.5,606.8 837.5,600.6 845.5,602.1 853.5,599.7 861.5,597.5 869.5,602.2 877.5,592.9 885.5,601.8 893.5,607.1 901.5,609.1 909.5,607.8 917.5,606.8 925.5,609.7 933.5,618.7 941.5,617.8 949.5,620.9 957.5,617.7 965.5,616.1 973.5,609.9 981.5,611.5 989.5,610.1 997.5,612.9 1005.5,614.4 1013.5,613.5 1021.5,610.3 1029.5,611.9 1037.5,612.1 1045.5,608.8 1053.5,614.2 1061.5,617.5 1069.5,621.3 1077.5,618.1 1085.5,618.9 1093.5,619.7 1101.5,623.3 1109.5,620.2 1117.5,615.8 1125.5,615.4 1133.5,616.6 1141.5,609.7 1149.5,604.6 1157.5,600.4 1165.5,599.2 1173.5,600.0 1181.5,599.1 1189.5,598.6 1197.5,594.8 1205.5,591.2 1213.5,593.2 1221.5,591.4 1229.5,591.7 1237.5,586.7 1245.5,585.1" fill="none" stroke="#1e90ff" stroke-width="1"/>
</g>
<text x="1585" y="565" font-size="9.6" fill="#000" stroke="#000" stroke-width="0.2" textLength="15" lengthAdjust="spacingAndGlyphs">100</text>
<text x="1585" y="588" font-size="9.6" fill="#000" stroke="#000" stroke-width="0.2" textLength="9.5" lengthAdjust="spacingAndGlyphs">70</text>
<text x="1585" y="625" font-size="9.6" fill="#000" stroke="#000" stroke-width="0.2" textLength="9.5" lengthAdjust="spacingAndGlyphs">30</text>
<text x="1585" y="647" font-size="9.6" fill="#000" stroke="#000" stroke-width="0.2" textLength="4.5" lengthAdjust="spacingAndGlyphs">0</text>
<text x="9" y="666" font-size="9.6" fill="#000" stroke="#000" stroke-width="0.2" textLength="148" lengthAdjust="spacingAndGlyphs">MACD(12,26,9) 0.003353 0.000896</text>
<g clip-path="url(#cd)">
<rect x="21" y="700" width="1" height="5" fill="#c0c0c0"/>
<rect x="29" y="699" width="1" height="6" fill="#c0c0c0"/>
<rect x="37" y="696" width="1" height="9" fill="#c0c0c0"/>
<rect x="45" y="694" width="1" height="11" fill="#c0c0c0"/>
<rect x="53" y="695" width="1" height="10" fill="#c0c0c0"/>
<rect x="61" y="694" width="1" height="11" fill="#c0c0c0"/>
<rect x="69" y="697" width="1" height="8" fill="#c0c0c0"/>
<rect x="77" y="704" width="1" height="1" fill="#c0c0c0"/>
<rect x="85" y="706" width="1" height="5" fill="#c0c0c0"/>
<rect x="93" y="706" width="1" height="9" fill="#c0c0c0"/>
<rect x="101" y="706" width="1" height="13" fill="#c0c0c0"/>
<rect x="109" y="706" width="1" height="12" fill="#c0c0c0"/>
<rect x="117" y="706" width="1" height="12" fill="#c0c0c0"/>
<rect x="125" y="706" width="1" height="6" fill="#c0c0c0"/>
<rect x="133" y="706" width="1" height="0" fill="#c0c0c0"/>
<rect x="141" y="700" width="1" height="5" fill="#c0c0c0"/>
<rect x="149" y="698" width="1" height="7" fill="#c0c0c0"/>
<rect x="157" y="697" width="1" height="8" fill="#c0c0c0"/>
<rect x="165" y="699" width="1" height="6" fill="#c0c0c0"/>
<rect x="173" y="699" width="1" height="6" fill="#c0c0c0"/>
<rect x="181" y="698" width="1" height="7" fill="#c0c0c0"/>
<rect x="189" y="697" width="1" height="8" fill="#c0c0c0"/>
<rect x="197" y="696" width="1" height="9" fill="#c0c0c0"/>
<rect x="205" y="694" width="1" height="11" fill="#c0c0c0"/>
<rect x="213" y="692" width="1" height="13" fill="#c0c0c0"/>
<rect x="221" y="692" width="1" height="13" fill="#c0c0c0"/>
<rect x="229" y="692" width="1" height="13" fill="#c0c0c0"/>
<rect x="237" y="692" width="1" height="13" fill="#c0c0c0"/>
<rect x="245" y="694" width="1" height="11" fill="#c0c0c0"/>
<rect x="253" y="693" width="1" height="12" fill="#c0c0c0"/>
<rect x="261" y="691" width="1" height="14" fill="#c0c0c0"/>
<rect x="269" y="690" width="1" height="15" fill="#c0c0c0"/>
<rect x="277" y="688" width="1" height="17" fill="#c0c0c0"/>
<rect x="285" y="685" width="1" height="20" fill="#c0c0c0"/>
<rect x="293" y="683" width="1" height="22" fill="#c0c0c0"/>
<rect x="301" y="679" width="1" height="26" fill="#c0c0c0"/>
<rect x="309" y="674" width="1" height="31" fill="#c0c0c0"/>
<rect x="317" y="667" width="1" height="38" fill="#c0c0c0"/>
<rect x="325" y="663" width="1" height="42" fill="#c0c0c0"/>
<rect x="333" y="660" width="1" height="45" fill="#c0c0c0"/>
<rect x="341" y="659" width="1" height="46" fill="#c0c0c0"/>
<rect x="349" y="659" width="1" height="46" fill="#c0c0c0"/>
<rect x="357" y="661" width="1" height="44" fill="#c0c0c0"/>
<rect x="365" y="661" width="1" height="44" fill="#c0c0c0"/>
<rect x="373" y="663" width="1" height="42" fill="#c0c0c0"/>
<rect x="381" y="664" width="1" height="41" fill="#c0c0c0"/>
<rect x="389" y="665" width="1" height="40" fill="#c0c0c0"/>
<rect x="397" y="665" width="1" height="40" fill="#c0c0c0"/>
<rect x="405" y="664" width="1" height="41" fill="#c0c0c0"/>
<rect x="413" y="662" width="1" height="43" fill="#c0c0c0"/>
<rect x="421" y="661" width="1" height="44" fill="#c0c0c0"/>
<rect x="429" y="660" width="1" height="45" fill="#c0c0c0"/>
<rect x="437" y="661" width="1" height="44" fill="#c0c0c0"/>
<rect x="445" y="664" width="1" height="41" fill="#c0c0c0"/>
<rect x="453" y="667" width="1" height="38" fill="#c0c0c0"/>
<rect x="461" y="669" width="1" height="36" fill="#c0c0c0"/>
<rect x="469" y="672" width="1" height="33" fill="#c0c0c0"/>
<rect x="477" y="672" width="1" height="33" fill="#c0c0c0"/>
<rect x="485" y="672" width="1" height="33" fill="#c0c0c0"/>
<rect x="493" y="670" width="1" height="35" fill="#c0c0c0"/>
<rect x="501" y="671" width="1" height="34" fill="#c0c0c0"/>
<rect x="509" y="674" width="1" height="31" fill="#c0c0c0"/>
<rect x="517" y="673" width="1" height="32" fill="#c0c0c0"/>
<rect x="525" y="674" width="1" height="31" fill="#c0c0c0"/>
<rect x="533" y="674" width="1" height="31" fill="#c0c0c0"/>
<rect x="541" y="675" width="1" height="30" fill="#c0c0c0"/>
<rect x="549" y="677" width="1" height="28" fill="#c0c0c0"/>
<rect x="557" y="680" width="1" height="25" fill="#c0c0c0"/>
<rect x="565" y="686" width="1" height="19" fill="#c0c0c0"/>
<rect x="573" y="690" width="1" height="15" fill="#c0c0c0"/>
<rect x="581" y="694" width="1" height="11" fill="#c0c0c0"/>
<rect x="589" y="698" width="1" height="7" fill="#c0c0c0"/>
<rect x="597" y="703" width="1" height="2" fill="#c0c0c0"/>
<rect x="605" y="706" width="1" height="2" fill="#c0c0c0"/>
<rect x="613" y="706" width="1" height="6" fill="#c0c0c0"/>
<rect x="621" y="706" width="1" height="6" fill="#c0c0c0"/>
<rect x="629" y="706" width="1" height="8" fill="#c0c0c0"/>
<rect x="637" y="706" width="1" height="7" fill="#c0c0c0"/>
<rect x="645" y="706" width="1" height="5" fill="#c0c0c0"/>
<rect x="653" y="706" width="1" height="4" fill="#c0c0c0"/>
<rect x="661" y="706" width="1" height="5" fill="#c0c0c0"/>
<rect x="669" y="706" width="1" height="3" fill="#c0c0c0"/>
<rect x="677" y="706" width="1" height="6" fill="#c0c0c0"/>
<rect x="685" y="706" width="1" height="6" fill="#c0c0c0"/>
<rect x="693" y="706" width="1" height="5" fill="#c0c0c0"/>
<rect x="701" y="706" width="1" height="5" fill="#c0c0c0"/>
<rect x="709" y="706" width="1" height="7" fill="#c0c0c0"/>
<rect x="717" y="706" width="1" height="11" fill="#c0c0c0"/>
<rect x="725" y="706" width="1" height="15" fill="#c0c0c0"/>
<rect x="733" y="706" width="1" height="19" fill="#c0c0c0"/>
<rect x="741" y="706" width="1" height="20" fill="#c0c0c0"/>
<rect x="749" y="706" width="1" height="20" fill="#c0c0c0"/>
<rect x="757" y="706" width="1" height="19" fill="#c0c0c0"/>
<rect x="765" y="706" width="1" height="16" fill="#c0c0c0"/>
<rect x="773" y="706" width="1" height="12" fill="#c0c0c0"/>
<rect x="781" y="706" width="1" height="9" fill="#c0c0c0"/>
<rect x="789" y="706" width="1" height="7" fill="#c0c0c0"/>
<rect x="797" y="706" width="1" height="6" fill="#c0c0c0"/>
<rect x="805" y="706" width="1" height="4" fill="#c0c0c0"/>
<rect x="813" y="706" width="1" height="3" fill="#c0c0c0"/>
<rect x="821" y="706" width="1" height="6" fill="#c0c0c0"/>
<rect x="829" y="706" width="1" height="6" fill="#c0c0c0"/>
<rect x="837" y="706" width="1" height="4" fill="#c0c0c0"/>
<rect x="845" y="706" width="1" height="3" fill="#c0c0c0"/>
<rect x="853" y="706" width="1" height="1" fill="#c0c0c0"/>
<rect x="861" y="704" width="1" height="1" fill="#c0c0c0"/>
<rect x="869" y="703" width="1" height="2" fill="#c0c0c0"/>
<rect x="877" y="699" width="1" height="6" fill="#c0c0c0"/>
<rect x="885" y="699" width="1" height="6" fill="#c0c0c0"/>
<rect x="893" y="702" width="1" height="3" fill="#c0c0c0"/>
<rect x="901" y="706" width="1" height="0" fill="#c0c0c0"/>
<rect x="909" y="706" width="1" height="2" fill="#c0c0c0"/>
<rect x="917" y="706" width="1" height="4" fill="#c0c0c0"/>
<rect x="925" y="706" width="1" height="6" fill="#c0c0c0"/>
<rect x="933" y="706" width="1" height="14" fill="#c0c0c0"/>
<rect x="941" y="706" width="1" height="19" fill="#c0c0c0"/>
<rect x="949" y="706" width="1" height="25" fill="#c0c0c0"/>
<rect x="957" y="706" width="1" height="29" fill="#c0c0c0"/>
<rect x="965" y="706" width="1" height="31" fill="#c0c0c0"/>
<rect x="973" y="706" width="1" height="29" fill="#c0c0c0"/>
<rect x="981" y="706" width="1" height="29" fill="#c0c0c0"/>
<rect x="989" y="706" width="1" height="27" fill="#c0c0c0"/>
<rect x="997" y="706" width="1" height="28" fill="#c0c0c0"/>
<rect x="1005" y="706" width="1" height="28" fill="#c0c0c0"/>
<rect x="1013" y="706" width="1" height="28" fill="#c0c0c0"/>
<rect x="1021" y="706" width="1" height="27" fill="#c0c0c0"/>
<rect x="1029" y="706" width="1" height="26" fill="#c0c0c0"/>
<rect x="1037" y="706" width="1" height="25" fill="#c0c0c0"/>
<rect x="1045" y="706" width="1" height="24" fill="#c0c0c0"/>
<rect x="1053" y="706" width="1" height="24" fill="#c0c0c0"/>
<rect x="1061" y="706" width="1" height="26" fill="#c0c0c0"/>
<rect x="1069" y="706" width="1" height="30" fill="#c0c0c0"/>
<rect x="1077" y="706" width="1" height="32" fill="#c0c0c0"/>
<rect x="1085" y="706" width="1" height="33" fill="#c0c0c0"/>
<rect x="1093" y="706" width="1" height="34" fill="#c0c0c0"/>
<rect x="1101" y="706" width="1" height="37" fill="#c0c0c0"/>
<rect x="1109" y="706" width="1" height="38" fill="#c0c0c0"/>
<rect x="1117" y="706" width="1" height="37" fill="#c0c0c0"/>
<rect x="1125" y="706" width="1" height="36" fill="#c0c0c0"/>
<rect x="1133" y="706" width="1" height="35" fill="#c0c0c0"/>
<rect x="1141" y="706" width="1" height="32" fill="#c0c0c0"/>
<rect x="1149" y="706" width="1" height="27" fill="#c0c0c0"/>
<rect x="1157" y="706" width="1" height="22" fill="#c0c0c0"/>
<rect x="1165" y="706" width="1" height="17" fill="#c0c0c0"/>
<rect x="1173" y="706" width="1" height="13" fill="#c0c0c0"/>
<rect x="1181" y="706" width="1" height="9" fill="#c0c0c0"/>
<rect x="1189" y="706" width="1" height="6" fill="#c0c0c0"/>
<rect x="1197" y="706" width="1" height="2" fill="#c0c0c0"/>
<rect x="1205" y="703" width="1" height="2" fill="#c0c0c0"/>
<rect x="1213" y="700" width="1" height="5" fill="#c0c0c0"/>
<rect x="1221" y="697" width="1" height="8" fill="#c0c0c0"/>
<rect x="1229" y="695" width="1" height="10" fill="#c0c0c0"/>
<rect x="1237" y="691" width="1" height="14" fill="#c0c0c0"/>
<rect x="1245" y="687" width="1" height="18" fill="#c0c0c0"/>
<polyline points="5.5,706.9 13.5,706.3 21.5,705.6 29.5,704.3 37.5,703.0 45.5,702.6 53.5,701.7 61.5,700.6 69.5,698.8 77.5,698.3 85.5,698.8 93.5,700.3 101.5,702.5 109.5,704.7 117.5,707.2 125.5,709.1 133.5,710.3 141.5,710.6 149.5,709.9 157.5,708.6 165.5,706.9 173.5,704.8 181.5,702.7 189.5,700.5 197.5,698.8 205.5,697.5 213.5,696.6 221.5,696.0 229.5,695.4 237.5,694.6 245.5,694.1 253.5,693.6 261.5,693.0 269.5,692.3 277.5,691.7 285.5,690.9 293.5,689.8 301.5,688.4 309.5,686.4 317.5,683.4 325.5,680.0 333.5,676.5 341.5,673.0 349.5,669.8 357.5,667.2 365.5,664.7 373.5,662.9 381.5,661.8 389.5,661.6 397.5,661.9 405.5,662.4 413.5,662.8 421.5,662.9 429.5,662.8 437.5,662.8 445.5,663.0 453.5,663.3 461.5,663.7 469.5,664.4 477.5,665.3 485.5,666.5 493.5,667.5 501.5,668.7 509.5,670.1 517.5,671.2 525.5,671.9 533.5,672.4 541.5,672.8 549.5,673.3 557.5,674.2 565.5,676.0 573.5,678.1 581.5,680.3 589.5,683.0 597.5,686.2 605.5,690.0 613.5,694.0 621.5,697.8 629.5,701.4 637.5,704.3 645.5,706.5 653.5,708.2 661.5,709.5 669.5,710.1 677.5,710.5 685.5,710.5 693.5,710.4 701.5,710.1 709.5,710.1 717.5,710.8 725.5,712.0 733.5,713.6 741.5,715.4 749.5,716.9 757.5,718.4 765.5,719.6 773.5,720.4 781.5,720.6 789.5,720.2 797.5,719.2 805.5,717.5 813.5,715.6 821.5,714.1 829.5,712.7 837.5,711.3 845.5,710.2 853.5,709.3 861.5,708.4 869.5,707.5 877.5,706.4 885.5,705.5 893.5,704.5 901.5,703.9 909.5,703.7 917.5,703.8 925.5,704.4 933.5,706.0 941.5,708.3 949.5,711.8 957.5,715.7 965.5,719.4 973.5,722.7 981.5,725.6 989.5,728.2 997.5,730.6 1005.5,732.3 1013.5,733.3 1021.5,733.5 1029.5,733.2 1037.5,732.6 1045.5,732.0 1053.5,731.5 1061.5,731.4 1069.5,731.6 1077.5,732.0 1085.5,732.5 1093.5,733.3 1101.5,734.5 1109.5,735.9 1117.5,737.4 1125.5,738.7 1133.5,739.6 1141.5,739.8 1149.5,739.2 1157.5,738.0 1165.5,736.0 1173.5,733.3 1181.5,730.1 1189.5,726.7 1197.5,723.1 1205.5,719.0 1213.5,714.9 1221.5,711.0 1229.5,707.5 1237.5,704.1 1245.5,700.7" fill="none" stroke="#ff0000" stroke-width="1" stroke-dasharray="3,3"/>
</g>
<rect x="1582" y="705" width="2" height="1" fill="#000"/>
<text x="1585" y="663" font-size="9.6" fill="#000" stroke="#000" stroke-width="0.2" textLength="37.5" lengthAdjust="spacingAndGlyphs">0.009478</text>
<text x="1585" y="709" font-size="9.6" fill="#000" stroke="#000" stroke-width="0.2" textLength="18" lengthAdjust="spacingAndGlyphs">0.00</text>
<text x="1585" y="745" font-size="9.6" fill="#000" stroke="#000" stroke-width="0.2" textLength="41.5" lengthAdjust="spacingAndGlyphs">-0.007778</text>
<rect x="5" y="749" width="1" height="3" fill="#000"/>
<text x="5" y="761" font-size="9.6" fill="#000" stroke="#000" stroke-width="0.2" textLength="50.5" lengthAdjust="spacingAndGlyphs">19 Oct 2020</text>
<rect x="69" y="749" width="1" height="3" fill="#000"/>
<text x="69" y="761" font-size="9.6" fill="#000" stroke="#000" stroke-width="0.2" textLength="50.5" lengthAdjust="spacingAndGlyphs">28 Oct 2020</text>
<rect x="133" y="749" width="1" height="3" fill="#000"/>
<text x="133" y="761" font-size="9.6" fill="#000" stroke="#000" stroke-width="0.2" textLength="49.5" lengthAdjust="spacingAndGlyphs">6 Nov 2020</text>
<rect x="197" y="749" width="1" height="3" fill="#000"/>
<text x="197" y="761" font-size="9.6" fill="#000" stroke="#000" stroke-width="0.2" textLength="53.5" lengthAdjust="spacingAndGlyphs">16 Nov 2020</text>
<rect x="261" y="749" width="1" height="3" fill="#000"/>
<text x="261" y="761" font-size="9.6" fill="#000" stroke="#000" stroke-width="0.2" textLength="54.2" lengthAdjust="spacingAndGlyphs">25 Nov 2020</text>
<rect x="325" y="749" width="1" height="3" fill="#000"/>
<text x="325" y="761" font-size="9.6" fill="#000" stroke="#000" stroke-width="0.2" textLength="47.0" lengthAdjust="spacingAndGlyphs">4 Dec 2020</text>
<rect x="389" y="749" width="1" height="3" fill="#000"/>
<text x="389" y="761" font-size="9.6" fill="#000" stroke="#000" stroke-width="0.2" textLength="52.0" lengthAdjust="spacingAndGlyphs">14 Dec 2020</text>
<rect x="453" y="749" width="1" height="3" fill="#000"/>
<text x="453" y="761" font-size="9.6" fill="#000" stroke="#000" stroke-width="0.2" textLength="51.7" lengthAdjust="spacingAndGlyphs">23 Dec 2020</text>
<rect x="517" y="749" width="1" height="3" fill="#000"/>
<text x="517" y="761" font-size="9.6" fill="#000" stroke="#000" stroke-width="0.2" textLength="44.5" lengthAdjust="spacingAndGlyphs">4 Jan 2021</text>
<rect x="581" y="749" width="1" height="3" fill="#000"/>
<text x="581" y="761" font-size="9.6" fill="#000" stroke="#000" stroke-width="0.2" textLength="49.5" lengthAdjust="spacingAndGlyphs">13 Jan 2021</text>
<rect x="645" y="749" width="1" height="3" fill="#000"/>
<text x="645" y="761" font-size="9.6" fill="#000" stroke="#000" stroke-width="0.2" textLength="49.8" lengthAdjust="spacingAndGlyphs">22 Jan 2021</text>
<rect x="709" y="749" width="1" height="3" fill="#000"/>
<text x="709" y="761" font-size="9.6" fill="#000" stroke="#000" stroke-width="0.2" textLength="46.2" lengthAdjust="spacingAndGlyphs">1 Feb 2021</text>
<rect x="773" y="749" width="1" height="3" fill="#000"/>
<text x="773" y="761" font-size="9.6" fill="#000" stroke="#000" stroke-width="0.2" textLength="51.0" lengthAdjust="spacingAndGlyphs">10 Feb 2021</text>
<rect x="837" y="749" width="1" height="3" fill="#000"/>
<text x="837" y="761" font-size="9.6" fill="#000" stroke="#000" stroke-width="0.2" textLength="51.3" lengthAdjust="spacingAndGlyphs">19 Feb 2021</text>
<rect x="901" y="749" width="1" height="3" fill="#000"/>
<text x="901" y="761" font-size="9.6" fill="#000" stroke="#000" stroke-width="0.2" textLength="45.8" lengthAdjust="spacingAndGlyphs">1 Mar 2021</text>
<rect x="965" y="749" width="1" height="3" fill="#000"/>
<text x="965" y="761" font-size="9.6" fill="#000" stroke="#000" stroke-width="0.2" textLength="51.1" lengthAdjust="spacingAndGlyphs">10 Mar 2021</text>
<rect x="1029" y="749" width="1" height="3" fill="#000"/>
<text x="1029" y="761" font-size="9.6" fill="#000" stroke="#000" stroke-width="0.2" textLength="51.3" lengthAdjust="spacingAndGlyphs">19 Mar 2021</text>
<rect x="1093" y="749" width="1" height="3" fill="#000"/>
<text x="1093" y="761" font-size="9.6" fill="#000" stroke="#000" stroke-width="0.2" textLength="51.7" lengthAdjust="spacingAndGlyphs">29 Mar 2021</text>
<rect x="1157" y="749" width="1" height="3" fill="#000"/>
<text x="1157" y="761" font-size="9.6" fill="#000" stroke="#000" stroke-width="0.2" textLength="45.8" lengthAdjust="spacingAndGlyphs">7 Apr 2021</text>
<rect x="1221" y="749" width="1" height="3" fill="#000"/>
<text x="1221" y="761" font-size="9.6" fill="#000" stroke="#000" stroke-width="0.2" textLength="50.3" lengthAdjust="spacingAndGlyphs">16 Apr 2021</text>
<rect x="0" y="771" width="1625" height="1" fill="#000"/>
<rect x="6" y="771" width="104" height="19" fill="#fff"/>
<rect x="6" y="771" width="1" height="19" fill="#000"/>
<rect x="109" y="771" width="1" height="19" fill="#000"/>
<rect x="6" y="789" width="104" height="1" fill="#000"/>
<rect x="0" y="772" width="6" height="18" fill="#f0f0f0"/>
<rect x="0" y="772" width="2" height="18" fill="#a0a0a0"/>
<text x="19" y="786" font-size="12" fill="#000" stroke="#000" stroke-width="0" textLength="79" lengthAdjust="spacingAndGlyphs">EURUSD,Daily</text>
<text x="121" y="786" font-size="12" fill="#6e6e6e" stroke="#6e6e6e" stroke-width="0" textLength="77" lengthAdjust="spacingAndGlyphs">USDCHF,Daily</text>
<text x="221" y="786" font-size="12" fill="#6e6e6e" stroke="#6e6e6e" stroke-width="0" textLength="82" lengthAdjust="spacingAndGlyphs">AUDUSD,Daily</text>
<text x="325" y="786" font-size="12" fill="#6e6e6e" stroke="#6e6e6e" stroke-width="0" textLength="81" lengthAdjust="spacingAndGlyphs">USDCAD,Daily</text>
<text x="428" y="786" font-size="12" fill="#6e6e6e" stroke="#6e6e6e" stroke-width="0" textLength="83" lengthAdjust="spacingAndGlyphs">USDCNH,Daily</text>
<text x="534" y="786" font-size="12" fill="#6e6e6e" stroke="#6e6e6e" stroke-width="0" textLength="79" lengthAdjust="spacingAndGlyphs">EURUSD,Daily</text>
<text x="638" y="786" font-size="12" fill="#6e6e6e" stroke="#6e6e6e" stroke-width="0" textLength="80" lengthAdjust="spacingAndGlyphs">GBPUSD,Daily</text>
<text x="741" y="786" font-size="12" fill="#6e6e6e" stroke="#6e6e6e" stroke-width="0" textLength="69" lengthAdjust="spacingAndGlyphs">XAUUSD,H4</text>
<text x="834" y="786" font-size="12" fill="#6e6e6e" stroke="#6e6e6e" stroke-width="0" textLength="59" lengthAdjust="spacingAndGlyphs">HK50,M15</text>
<text x="917" y="786" font-size="12" fill="#6e6e6e" stroke="#6e6e6e" stroke-width="0" textLength="56" lengthAdjust="spacingAndGlyphs">UK100,H1</text>
<text x="997" y="786" font-size="12" fill="#6e6e6e" stroke="#6e6e6e" stroke-width="0" textLength="56" lengthAdjust="spacingAndGlyphs">UK100,H1</text>
<text x="1077" y="786" font-size="12" fill="#6e6e6e" stroke="#6e6e6e" stroke-width="0" textLength="57" lengthAdjust="spacingAndGlyphs">GER30,H1</text>
<text x="1156" y="786" font-size="12" fill="#6e6e6e" stroke="#6e6e6e" stroke-width="0" textLength="55" lengthAdjust="spacingAndGlyphs">FRA40,H1</text>
<text x="1232" y="786" font-size="12" fill="#6e6e6e" stroke="#6e6e6e" stroke-width="0" textLength="50" lengthAdjust="spacingAndGlyphs">USOil,H1</text>
<text x="1304" y="786" font-size="12" fill="#6e6e6e" stroke="#6e6e6e" stroke-width="0" textLength="62" lengthAdjust="spacingAndGlyphs">USDJPY,H1</text>
<text x="1389" y="786" font-size="12" fill="#6e6e6e" stroke="#6e6e6e" stroke-width="0" textLength="73" lengthAdjust="spacingAndGlyphs">DJ30,Weekly</text>
<text x="1484" y="786" font-size="12" fill="#6e6e6e" stroke="#6e6e6e" stroke-width="0" textLength="78" lengthAdjust="spacingAndGlyphs">CHINA300,H1</text>
<text x="1584" y="786" font-size="12" fill="#6e6e6e" stroke="#6e6e6e" stroke-width="0" textLength="7" lengthAdjust="spacingAndGlyphs">U</text>
<rect x="210" y="775" width="1" height="13" fill="#808080"/>
<rect x="314" y="775" width="1" height="13" fill="#808080"/>
<rect x="418" y="775" width="1" height="13" fill="#808080"/>
<rect x="522" y="775" width="1" height="13" fill="#808080"/>
<rect x="626" y="775" width="1" height="13" fill="#808080"/>
<rect x="730" y="775" width="1" height="13" fill="#808080"/>
<rect x="822" y="775" width="1" height="13" fill="#808080"/>
<rect x="906" y="775" width="1" height="13" fill="#808080"/>
<rect x="986" y="775" width="1" height="13" fill="#808080"/>
<rect x="1066" y="775" width="1" height="13" fill="#808080"/>
<rect x="1146" y="775" width="1" height="13" fill="#808080"/>
<rect x="1222" y="775" width="1" height="13" fill="#808080"/>
<rect x="1294" y="775" width="1" height="13" fill="#808080"/>
<rect x="1378" y="775" width="1" height="13" fill="#808080"/>
<rect x="1474" y="775" width="1" height="13" fill="#808080"/>
<rect x="1574" y="775" width="1" height="13" fill="#808080"/>
<rect x="1592" y="772" width="33" height="18" fill="#f0f0f0"/>
<path d="M1601 777 L1597 780.5 L1601 784 Z" fill="#a0a0a0"/>
<path d="M1615 777 L1619 780.5 L1615 784 Z" fill="#000"/>
</svg></body></html>
